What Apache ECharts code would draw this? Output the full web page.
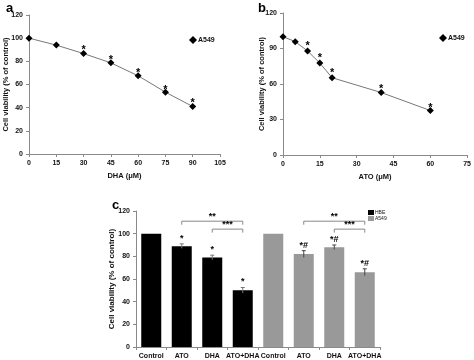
<!DOCTYPE html>
<html><head><meta charset="utf-8">
<script src="https://cdn.jsdelivr.net/npm/echarts@6/dist/echarts.min.js"></script>
<style>html,body{margin:0;padding:0;background:#fff}#c{width:474px;height:360px}</style>
</head><body><div id="c"></div>
<script>
// Panel a: DHA dose response (A549)
const dhaDose = [0, 15, 30, 45, 60, 75, 90];
const dhaViab = [100, 94, 86.7, 78.7, 67.5, 53.4, 41];
const dhaErr = [0, 1.5, 1.5, 1.5, 1.5, 1.5, 1.5];
const dhaStar = [null, null, 92.4, 83.9, 72.4, 57.7, 46.8];
// Panel b: ATO dose response (A549)
const atoDose = [0, 5, 10, 15, 20, 40, 60];
const atoViab = [100, 95.8, 87.9, 77.7, 65.3, 52.8, 37.6];
const atoErr = [0, 1, 1, 1, 1, 1, 1.2];
const atoStar = [null, null, 94.3, 84.5, 71.7, 58.5, 42];
// Panel c: combination
const cats = ['Control', 'ATO', 'DHA', 'ATO+DHA', 'Control', 'ATO', 'DHA', 'ATO+DHA'];
const hbe = [100, 89, 79, 50];
const hbeErr = [0, 2, 2, 2.5];
const a549 = [100, 82, 88, 66];
const a549Err = [0, 3, 2, 3];
const hbeMark = ['', '*', '*', '*'];
const a549Mark = ['', '*#', '*#', '*#'];
// brackets: [fromIndex, toIndex, level, label]
const brackets = [[1, 3, 111, '**'], [2, 3, 104, '***'], [5, 7, 111, '**'], [6, 7, 104, '***']];

const F = 'Liberation Sans, Arial, sans-serif';
const axisCol = '#8a8a8a';
function axisCommon(extra) {
  return Object.assign({
    axisLine: {show: true, lineStyle: {color: axisCol, width: 1}},
    axisTick: {show: true, length: 3, lineStyle: {color: axisCol}},
    axisLabel: {color: '#111', fontSize: 7, fontFamily: F, fontWeight: 'bold', margin: 6},
    splitLine: {show: false},
    nameMoveOverlap: false,
    nameTextStyle: {color: '#111', fontSize: 7.5, fontFamily: F, fontWeight: 'bold'}
  }, extra);
}

const hbeFull = cats.map((c, i) => i < 4 ? hbe[i] : '-');
const a549Full = cats.map((c, i) => i >= 4 ? a549[i - 4] : '-');
const errData = [];
hbe.forEach((v, i) => errData.push([i, v, hbeErr[i], hbeMark[i]]));
a549.forEach((v, i) => errData.push([i + 4, v, a549Err[i], a549Mark[i]]));

function lineErr(xs, ys, es) { return xs.map((x, i) => [x, ys[i], es[i]]); }
function starPts(xs, ss) { return xs.map((x, i) => [x, ss[i]]).filter(d => d[1] != null); }

function renderLineErr(params, api) {
  const x = api.value(0), y = api.value(1), e = api.value(2);
  if (!e) return null;
  const p1 = api.coord([x, y - e]), p2 = api.coord([x, y + e]);
  return {type: 'line', shape: {x1: p1[0], y1: p1[1], x2: p2[0], y2: p2[1]}, style: {stroke: '#000', lineWidth: 1}};
}
function renderStar(params, api) {
  const p = api.coord([api.value(0), api.value(1)]);
  return {type: 'text', x: p[0], y: p[1] + 3, style: {text: '*', fill: '#000', font: 'bold 11px ' + F, align: 'center', verticalAlign: 'middle'}};
}

const option = {
  animation: false,
  title: [
    {text: 'a', left: 1, top: -3, textStyle: {fontSize: 13, fontWeight: 'bold', fontFamily: F, color: '#000'}},
    {text: 'b', left: 253, top: -3, textStyle: {fontSize: 13, fontWeight: 'bold', fontFamily: F, color: '#000'}},
    {text: 'c', left: 107, top: 194, textStyle: {fontSize: 13, fontWeight: 'bold', fontFamily: F, color: '#000'}}
  ],
  legend: [
    {left: 184, top: 31, itemWidth: 8, itemHeight: 8, itemGap: 0, selectedMode: false,
      textStyle: {fontSize: 7, fontFamily: F, fontWeight: 'bold', color: '#111', padding: [0, 0, 0, -4]},
      data: [{name: 'A549', icon: 'diamond', itemStyle: {color: '#000'}}]},
    {left: 434, top: 29, itemWidth: 8, itemHeight: 8, itemGap: 0, selectedMode: false,
      textStyle: {fontSize: 7, fontFamily: F, fontWeight: 'bold', color: '#111', padding: [0, 0, 0, -4]},
      data: [{name: 'A549 ', icon: 'diamond', itemStyle: {color: '#000'}}]},
    {left: 363, top: 205, orient: 'vertical', itemWidth: 6, itemHeight: 5, itemGap: 1, selectedMode: false,
      textStyle: {fontSize: 5, fontFamily: F, color: '#111', padding: [0, 0, 0, -4]},
      data: [{name: 'HBE', icon: 'rect', itemStyle: {color: '#000'}}, {name: 'A549  ', icon: 'rect', itemStyle: {color: '#999'}}]}
  ],
  grid: [
    {left: 29, right: 254, top: 15, bottom: 206},
    {left: 283, right: 5, top: 13, bottom: 205},
    {left: 136, right: 94, top: 211, bottom: 13}
  ],
  xAxis: [
    axisCommon({type: 'value', gridIndex: 0, min: 0, max: 105, interval: 15, name: 'DHA (μM)', nameLocation: 'middle', nameGap: 18}),
    axisCommon({type: 'value', gridIndex: 1, min: 0, max: 75, interval: 15, name: 'ATO (μM)', nameLocation: 'middle', nameGap: 18}),
    axisCommon({type: 'category', gridIndex: 2, data: cats, axisTick: {show: true, length: 3, lineStyle: {color: axisCol}},
      axisLabel: {color: '#111', fontSize: 7, fontFamily: F, fontWeight: 'bold', margin: 6, interval: 0}})
  ],
  yAxis: [
    axisCommon({type: 'value', gridIndex: 0, min: 0, max: 120, interval: 20, name: 'Cell viability (% of control)', nameLocation: 'middle', nameGap: 19}),
    axisCommon({type: 'value', gridIndex: 1, min: 0, max: 120, interval: 30, name: 'Cell viability (% of control)', nameLocation: 'middle', nameGap: 17}),
    axisCommon({type: 'value', gridIndex: 2, min: 0, max: 120, interval: 20, name: 'Cell viability (% of control)', nameLocation: 'middle', nameGap: 20,
      nameTextStyle: {color: '#111', fontSize: 8, fontFamily: F, fontWeight: 'bold'}})
  ],
  series: [
    {name: 'A549', type: 'line', xAxisIndex: 0, yAxisIndex: 0, data: dhaDose.map((x, i) => [x, dhaViab[i]]),
      symbol: 'diamond', symbolSize: 7, itemStyle: {color: '#000'}, lineStyle: {color: '#777', width: 1}, z: 3},
    {type: 'custom', xAxisIndex: 0, yAxisIndex: 0, data: lineErr(dhaDose, dhaViab, dhaErr), renderItem: renderLineErr, z: 2},
    {type: 'custom', xAxisIndex: 0, yAxisIndex: 0, data: starPts(dhaDose, dhaStar), renderItem: renderStar},
    {name: 'A549 ', type: 'line', xAxisIndex: 1, yAxisIndex: 1, data: atoDose.map((x, i) => [x, atoViab[i]]),
      symbol: 'diamond', symbolSize: 7, itemStyle: {color: '#000'}, lineStyle: {color: '#777', width: 1}, z: 3},
    {type: 'custom', xAxisIndex: 1, yAxisIndex: 1, data: lineErr(atoDose, atoViab, atoErr), renderItem: renderLineErr, z: 2},
    {type: 'custom', xAxisIndex: 1, yAxisIndex: 1, data: starPts(atoDose, atoStar), renderItem: renderStar},
    {name: 'HBE', type: 'bar', xAxisIndex: 2, yAxisIndex: 2, data: hbeFull, barWidth: 20, barGap: '-100%', itemStyle: {color: '#000'}},
    {name: 'A549  ', type: 'bar', xAxisIndex: 2, yAxisIndex: 2, data: a549Full, barWidth: 20, barGap: '-100%', itemStyle: {color: '#999'}},
    {type: 'custom', xAxisIndex: 2, yAxisIndex: 2, data: errData, encode: {x: 0, y: 1}, z: 5,
      renderItem: function (params, api) {
        const i = api.value(0), v = api.value(1), e = api.value(2);
        const mark = errData[params.dataIndex][3];
        const ch = [];
        const top = api.coord([i, v + e]), bot = api.coord([i, v - e]);
        if (e) {
          ch.push({type: 'line', shape: {x1: top[0], y1: top[1], x2: bot[0], y2: bot[1]}, style: {stroke: i < 4 ? '#777' : '#444', lineWidth: 1}});
          ch.push({type: 'line', shape: {x1: top[0] - 2, y1: top[1], x2: top[0] + 2, y2: top[1]}, style: {stroke: i < 4 ? '#777' : '#444', lineWidth: 1}});
        }
        if (mark) {
          ch.push({type: 'text', x: top[0], y: top[1] - 1, style: {text: mark, fill: '#000', font: 'bold 9px ' + F, align: 'center', verticalAlign: 'bottom'}});
        }
        return {type: 'group', children: ch};
      }},
    {type: 'custom', xAxisIndex: 2, yAxisIndex: 2, data: brackets, encode: {x: [0, 1], y: 2}, z: 5,
      renderItem: function (params, api) {
        const a = api.coord([api.value(0), api.value(2)]), b = api.coord([api.value(1), api.value(2)]);
        const lab = brackets[params.dataIndex][3];
        const st = {stroke: '#888', lineWidth: 1, fill: null};
        return {type: 'group', children: [
          {type: 'polyline', shape: {points: [[a[0], a[1] + 3.5], [a[0], a[1]], [b[0], b[1]], [b[0], b[1] + 3.5]]}, style: st},
          {type: 'text', x: (a[0] + b[0]) / 2, y: a[1] - 0.5, style: {text: lab, fill: '#000', font: 'bold 9px ' + F, align: 'center', verticalAlign: 'bottom'}}
        ]};
      }}
  ]
};
const chart = echarts.init(document.getElementById('c'), null, {renderer: 'canvas'});
chart.setOption(option);
</script></body></html>
